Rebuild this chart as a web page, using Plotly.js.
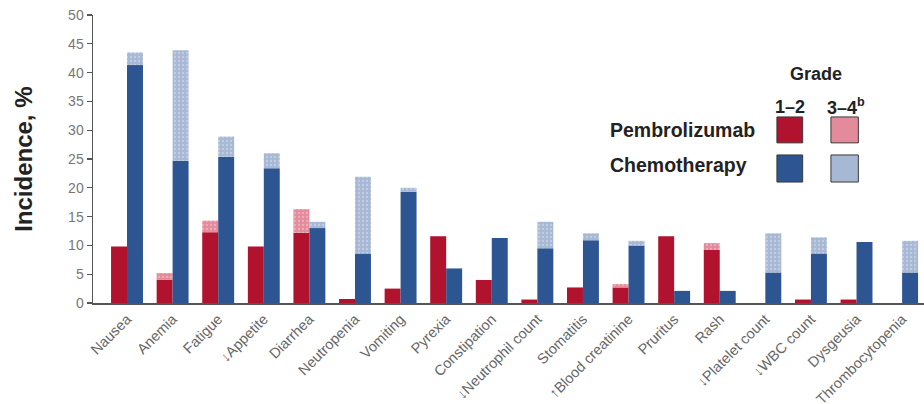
<!DOCTYPE html>
<html>
<head>
<meta charset="utf-8">
<script src="https://cdn.plot.ly/plotly-3.0.1.min.js"></script>
<style>
  html, body { margin: 0; padding: 0; background: #ffffff; }
  #chart { width: 924px; height: 404px; }
</style>
</head>
<body>
<div id="chart"></div>
<script>
// Adverse events by grade, pembrolizumab vs chemotherapy (incidence, %)
const categories = [
  "Nausea", "Anemia", "Fatigue", "\u2193Appetite", "Diarrhea", "Neutropenia",
  "Vomiting", "Pyrexia", "Constipation", "\u2193Neutrophil count", "Stomatitis",
  "\u2191Blood creatinine", "Pruritus", "Rash", "\u2193Platelet count",
  "\u2193WBC count", "Dysgeusia", "Thrombocytopenia"
];
const pembroGrade12 = [9.8, 4.0, 12.3, 9.8, 12.2, 0.7, 2.5, 11.6, 4.0, 0.6, 2.7, 2.7, 11.6, 9.2, 0, 0.6, 0.6, 0];
const pembroGrade34 = [0, 1.2, 2.0, 0, 4.1, 0, 0, 0, 0, 0, 0, 0.6, 0, 1.2, 0, 0, 0, 0];
const chemoGrade12  = [41.3, 24.7, 25.4, 23.4, 13.0, 8.6, 19.3, 6.0, 11.3, 9.5, 10.9, 10.0, 2.1, 2.1, 5.3, 8.6, 10.6, 5.3];
const chemoGrade34  = [2.2, 19.2, 3.5, 2.6, 1.1, 13.3, 0.7, 0, 0, 4.6, 1.2, 0.8, 0, 0, 6.8, 2.8, 0, 5.5];
const yTicks = [0, 5, 10, 15, 20, 25, 30, 35, 40, 45, 50];

const FONT = "Liberation Sans, Arial, Helvetica, sans-serif";
const RED = "#b1122d", PINK = "#e48b9b", BLUE = "#2c5592", LIGHTBLUE = "#a7b8d5";
const BW = 0.35;
const idx = categories.map((_, i) => i);

function barTrace(name, y, base, color, offset, dotted) {
  const t = {
    type: "bar", name: name, x: idx, y: y,
    width: BW, offset: offset,
    marker: { color: color, line: { width: 0 } },
    hoverinfo: "y+name", showlegend: false
  };
  if (base) t.base = base;
  if (dotted) {
    t.marker.pattern = { shape: ".", bgcolor: color, fgcolor: "#ffffff", size: 4, solidity: 0.25, fgopacity: 0.3 };
  }
  return t;
}

const traces = [
  barTrace("Pembrolizumab grade 1\u20132", pembroGrade12, null, RED, -BW, false),
  barTrace("Pembrolizumab grade 3\u20134", pembroGrade34, pembroGrade12, PINK, -BW, true),
  barTrace("Chemotherapy grade 1\u20132", chemoGrade12, null, BLUE, 0, false),
  barTrace("Chemotherapy grade 3\u20134", chemoGrade34, chemoGrade12, LIGHTBLUE, 0, true)
];

// key swatches drawn in paper space
const swatch = (x0, x1, y0, y1, fill) => ({
  type: "rect", xref: "paper", yref: "paper", x0: x0, x1: x1, y0: y0, y1: y1,
  fillcolor: fill, line: { color: "#3a3a3a", width: 1 }
});

const layout = {
  width: 924, height: 404,
  margin: { l: 93, r: 0, t: 15, b: 101 },
  paper_bgcolor: "#ffffff", plot_bgcolor: "#ffffff",
  font: { family: FONT, color: "#222" },
  barmode: "overlay",
  xaxis: {
    range: [-0.746, 17.48],
    tickmode: "array", tickvals: idx, ticktext: categories,
    tickangle: -45, ticks: "", automargin: false,
    tickfont: { family: FONT, size: 14.5, color: "#666" },
    showline: true, linecolor: "#555", linewidth: 2,
    showgrid: false, zeroline: false, fixedrange: true
  },
  yaxis: {
    range: [0, 50],
    tickmode: "array", tickvals: yTicks, ticktext: yTicks.map(String),
    ticks: "outside", ticklen: 5, tickcolor: "#555", tickwidth: 1.2,
    tickfont: { family: FONT, size: 14, color: "#777" },
    showline: true, linecolor: "#555", linewidth: 1.5,
    showgrid: false, zeroline: false, fixedrange: true
  },
  annotations: [
    { text: "<b>Incidence, %</b>", textangle: -90, xref: "paper", yref: "paper",
      x: (24 - 93) / 831, y: 0.497, xanchor: "center", yanchor: "middle", showarrow: false,
      font: { family: FONT, size: 24, color: "#222" } },
    { text: "<b>Grade</b>", xref: "paper", yref: "paper", x: 0.870, y: 0.795,
      xanchor: "center", yanchor: "middle", showarrow: false,
      font: { family: FONT, size: 18, color: "#222" } },
    { text: "<b>1\u20132</b>", xref: "paper", yref: "paper", x: 0.839, y: 0.680,
      xanchor: "center", yanchor: "middle", showarrow: false,
      font: { family: FONT, size: 18, color: "#222" } },
    { text: "<b>3\u20134<sup>b</sup></b>", xref: "paper", yref: "paper", x: 0.906, y: 0.684,
      xanchor: "center", yanchor: "middle", showarrow: false,
      font: { family: FONT, size: 18, color: "#222" } },
    { text: "<b>Pembrolizumab</b>", xref: "paper", yref: "paper", x: 0.620, y: 0.601,
      xanchor: "left", yanchor: "middle", showarrow: false,
      font: { family: FONT, size: 19.5, color: "#222" } },
    { text: "<b>Chemotherapy</b>", xref: "paper", yref: "paper", x: 0.620, y: 0.479,
      xanchor: "left", yanchor: "middle", showarrow: false,
      font: { family: FONT, size: 19.5, color: "#222" } }
  ],
  shapes: [
    swatch(0.823, 0.854, 0.556, 0.646, RED),
    swatch(0.888, 0.921, 0.556, 0.646, PINK),
    swatch(0.823, 0.854, 0.420, 0.514, BLUE),
    swatch(0.888, 0.921, 0.420, 0.514, LIGHTBLUE)
  ]
};

Plotly.newPlot("chart", traces, layout, { displayModeBar: false, staticPlot: true });
</script>
</body>
</html>
